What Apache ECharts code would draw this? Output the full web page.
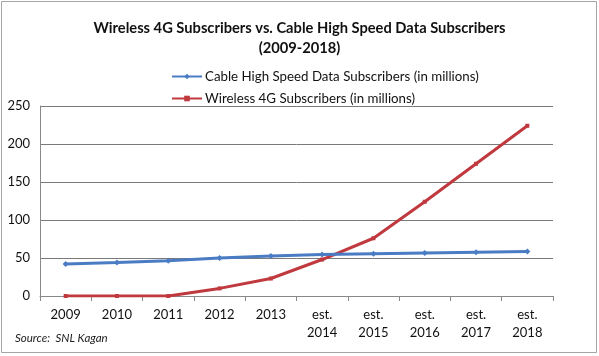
<!DOCTYPE html>
<html><head><meta charset="utf-8">
<script src="https://cdn.jsdelivr.net/npm/echarts@6/dist/echarts.min.js"></script>
<style>html,body{margin:0;padding:0;background:#fff}#c{width:599px;height:356px}</style>
</head><body><div id="c"></div>
<script>
const categories = ["2009","2010","2011","2012","2013","est.\n2014","est.\n2015","est.\n2016","est.\n2017","est.\n2018"];
const cableValues = [42, 44, 46.5, 50, 52.5, 54.5, 55.5, 56.5, 57.5, 58.5];
const wirelessValues = [0, 0, 0, 10, 23, 48, 76, 124, 174, 224];
const yTicks = [0, 50, 100, 150, 200, 250];
const titleText = "Wireless 4G Subscribers vs. Cable High Speed Data Subscribers\n(2009-2018)";
const cableName = "Cable High Speed Data Subscribers (in millions)";
const wirelessName = "Wireless 4G Subscribers (in millions)";
const sourceText = "Source:  SNL Kagan";

const font = "Lato, 'Open Sans', sans-serif";
const chart = echarts.init(document.getElementById('c'), null, {renderer:'canvas'});
chart.setOption({
  animation:false,
  backgroundColor:'#fff',
  graphic:[
    {type:'rect', shape:{x:1.5,y:1.5,width:595,height:351}, style:{fill:'none', stroke:'#a5a5a5', lineWidth:1}},
    {type:'text', left:15, top:332, style:{text:sourceText, font:"italic 11.5px "+font, fill:'#222'}}
  ],
  title:{text:titleText, left:'center', top:13, textStyle:{fontFamily:font, fontSize:14.7, fontWeight:'bold', color:'#111', lineHeight:20}},
  legend:{orient:'vertical', left:166, top:65, itemGap:9, itemWidth:30, itemHeight:7,
    textStyle:{fontFamily:font, fontSize:13.3, color:'#111', padding:[0,0,0,-2]},
    data:[{name:cableName},{name:wirelessName}]},
  grid:{left:40, right:46, top:106, bottom:60, containLabel:false},
  xAxis:{type:'category', data:categories, boundaryGap:true,
    axisLine:{lineStyle:{color:'#888'}}, axisTick:{show:true, length:5, lineStyle:{color:'#888'}},
    axisLabel:{fontFamily:font, fontSize:13, color:'#111', margin:10, lineHeight:18}},
  yAxis:{type:'value', min:0, max:250, interval:50,
    axisLine:{show:true, lineStyle:{color:'#888'}}, axisTick:{show:false},
    splitLine:{lineStyle:{color:'#7a7a7a', width:1}},
    axisLabel:{fontFamily:font, fontSize:13, color:'#111', margin:10,
      formatter:v=> yTicks.includes(v)? String(v):''}},
  series:[
    {name:cableName, type:'line', data:cableValues, symbol:'diamond', symbolSize:6,
      color:'#4a7cc4', lineStyle:{width:3, color:'#4a7cc4'}, itemStyle:{color:'#4a7cc4'}, z:3},
    {name:wirelessName, type:'line', data:wirelessValues, symbol:'rect', symbolSize:4,
      color:'#c0393f', lineStyle:{width:3, color:'#c0393f'}, itemStyle:{color:'#c0393f'}, z:2}
  ]
});
</script></body></html>
